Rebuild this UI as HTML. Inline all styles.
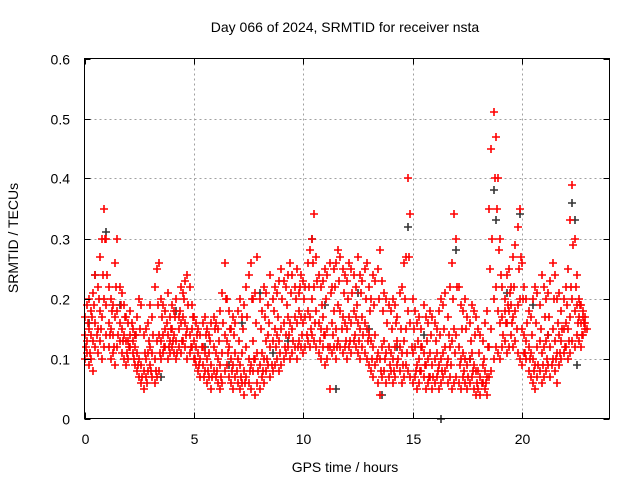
<!DOCTYPE html>
<html><head><meta charset="utf-8"><style>
body{margin:0;background:#fff;}
svg text{font-family:"Liberation Sans",sans-serif;font-size:14px;fill:#000;}
</style></head><body>
<svg id="chart" width="640" height="480" xmlns="http://www.w3.org/2000/svg">
<rect width="640" height="480" fill="#fff"/>
<g id="grid"></g>
<g id="marks"></g>
<rect x="84.5" y="58.5" width="525" height="360" fill="none" stroke="#000" stroke-width="1"/>
<g id="ticks"></g>
<text x="345" y="32" text-anchor="middle">Day 066 of 2024, SRMTID for receiver nsta</text>
<text x="345" y="472" text-anchor="middle">GPS time / hours</text>
<text transform="translate(18,238) rotate(-90)" text-anchor="middle">SRMTID / TECUs</text>
</svg>
<script>
const xTicks=[0,5,10,15,20];
const yTicks=[0,0.1,0.2,0.3,0.4,0.5,0.6];
const yTickLabels=["0","0.1","0.2","0.3","0.4","0.5","0.6"];
const tStart=0, tStep=0.1;
const redHi=[.17,.19,.20,.18,.21,.24,.22,.27,.30,.35,.30,.22,.20,.19,.26,.30,.22,.21,.19,.17,.16,.18,.15,.14,.17,.20,.19,.14,.15,.16,.19,.17,.22,.25,.26,.20,.19,.18,.21,.17,.19,.18,.20,.17,.22,.21,.23,.24,.22,.19,.17,.16,.15,.14,.16,.17,.15,.14,.16,.17,.16,.15,.18,.21,.26,.20,.18,.15,.17,.16,.18,.20,.17,.19,.22,.24,.26,.20,.21,.27,.20,.18,.22,.21,.19,.24,.20,.22,.21,.23,.25,.23,.22,.24,.26,.24,.22,.25,.21,.24,.23,.22,.26,.28,.30,.34,.27,.24,.22,.23,.25,.24,.26,.22,.25,.26,.28,.27,.25,.24,.23,.26,.25,.24,.22,.27,.24,.23,.25,.26,.22,.20,.24,.23,.25,.28,.23,.21,.20,.19,.18,.20,.19,.17,.21,.22,.26,.27,.40,.34,.20,.18,.16,.17,.15,.19,.17,.16,.18,.17,.16,.15,.18,.20,.19,.21,.17,.22,.26,.34,.30,.22,.19,.18,.20,.17,.16,.19,.18,.17,.15,.14,.13,.16,.18,.35,.45,.51,.47,.40,.30,.22,.20,.24,.25,.22,.27,.29,.32,.35,.26,.22,.20,.18,.17,.20,.22,.21,.19,.24,.22,.20,.21,.23,.26,.24,.20,.21,.18,.20,.22,.25,.33,.39,.30,.24,.20,.19,.18,.17];
const redMid=[.14,.13,.15,.14,.13,.16,.15,.18,.17,.20,.19,.16,.15,.14,.17,.18,.16,.15,.14,.13,.13,.14,.13,.12,.11,.10,.09,.08,.10,.11,.12,.11,.10,.13,.14,.13,.14,.15,.14,.13,.15,.14,.13,.15,.16,.17,.16,.15,.14,.15,.13,.12,.11,.10,.12,.11,.10,.11,.09,.12,.11,.10,.09,.11,.14,.13,.12,.10,.09,.11,.10,.09,.11,.08,.12,.10,.09,.13,.10,.11,.09,.11,.10,.13,.14,.12,.13,.15,.14,.13,.15,.16,.14,.17,.16,.15,.17,.16,.18,.17,.16,.17,.18,.17,.20,.22,.18,.16,.15,.17,.14,.15,.12,.16,.18,.15,.19,.18,.17,.16,.15,.17,.16,.18,.17,.16,.15,.17,.16,.15,.14,.13,.12,.14,.11,.10,.12,.13,.11,.12,.11,.10,.12,.13,.12,.11,.13,.15,.18,.16,.11,.12,.09,.10,.12,.11,.09,.10,.11,.09,.10,.11,.09,.10,.11,.12,.10,.12,.13,.15,.14,.12,.10,.11,.10,.09,.10,.11,.09,.08,.08,.07,.09,.08,.07,.12,.15,.20,.22,.18,.16,.17,.18,.16,.18,.19,.17,.18,.19,.20,.15,.14,.13,.12,.11,.10,.09,.12,.13,.11,.12,.13,.14,.12,.15,.13,.11,.14,.13,.15,.16,.15,.17,.20,.18,.19,.17,.16,.17,.16];
const redLo=[.10,.11,.09,.10,.08,.12,.11,.13,.10,.12,.14,.12,.10,.11,.09,.12,.13,.11,.10,.09,.10,.12,.11,.09,.08,.07,.06,.05,.07,.08,.09,.07,.06,.07,.08,.10,.11,.12,.10,.11,.12,.11,.10,.12,.11,.13,.12,.10,.11,.12,.10,.09,.08,.07,.09,.08,.06,.07,.05,.08,.07,.06,.05,.06,.08,.09,.07,.06,.05,.07,.06,.05,.06,.04,.07,.06,.05,.08,.04,.06,.05,.07,.06,.08,.09,.07,.08,.09,.10,.08,.09,.10,.11,.12,.10,.11,.12,.10,.13,.12,.11,.12,.13,.12,.14,.13,.12,.11,.10,.12,.09,.10,.05,.11,.12,.10,.13,.12,.11,.12,.10,.12,.11,.13,.12,.11,.10,.12,.11,.10,.09,.08,.07,.09,.06,.04,.07,.08,.06,.07,.08,.06,.07,.09,.08,.06,.07,.09,.08,.07,.06,.07,.05,.06,.08,.07,.05,.06,.07,.05,.06,.07,.05,.06,.07,.08,.06,.07,.05,.06,.07,.06,.05,.07,.06,.05,.06,.07,.05,.04,.05,.04,.06,.05,.04,.07,.08,.10,.12,.11,.10,.12,.13,.11,.12,.14,.12,.13,.11,.10,.09,.11,.10,.08,.07,.06,.05,.07,.08,.06,.07,.08,.09,.07,.10,.08,.06,.09,.10,.11,.12,.10,.11,.13,.12,.14,.13,.12,.14,.15];
const redQ=[.12,.16,.11,.17,.19,.14,.20,.15,.24,.30,.24,.14,.18,.12,.22,.14,.19,.13,.17,.11,.12,.16,.10,.14,.09,.15,.07,.11,.06,.13,.08,.14,.08,.19,.11,.17,.12,.16,.12,.15,.13,.17,.11,.18,.13,.20,.14,.19,.12,.17,.10,.14,.09,.12,.07,.14,.08,.13,.07,.15,.08,.13,.07,.16,.20,.11,.15,.08,.14,.08,.13,.07,.15,.06,.17,.08,.20,.10,.16,.08,.15,.08,.17,.10,.16,.09,.18,.12,.17,.11,.20,.12,.19,.14,.21,.13,.20,.12,.22,.14,.20,.14,.22,.15,.26,.16,.23,.13,.19,.14,.20,.12,.21,.14,.22,.12,.23,.15,.21,.13,.20,.13,.21,.14,.19,.13,.21,.14,.20,.13,.18,.10,.19,.10,.20,.08,.18,.10,.16,.09,.15,.08,.16,.10,.15,.09,.20,.11,.27,.12,.15,.08,.13,.08,.12,.09,.13,.07,.14,.07,.13,.08,.14,.08,.15,.09,.14,.09,.20,.11,.22,.09,.15,.08,.15,.07,.13,.08,.14,.06,.11,.06,.10,.06,.12,.25,.30,.40,.35,.28,.24,.14,.16,.19,.21,.16,.22,.15,.25,.27,.20,.11,.16,.10,.14,.08,.16,.09,.15,.09,.17,.10,.17,.09,.20,.10,.16,.11,.15,.12,.19,.13,.22,.29,.22,.16,.19,.14,.16,.15];
const blackT=[0.2,0.5,1.0,1.6,2.3,3.5,4.2,5.5,6.6,7.2,8.0,8.6,9.3,10.4,11.0,11.5,12.5,13.0,13.6,14.3,14.8,15.5,16.3,17.0,17.6,18.7,18.8,19.3,19.9,20.5,21.2,22.3,22.4,22.5];
const blackV=[.16,.24,.31,.19,.14,.07,.18,.12,.09,.16,.21,.11,.13,.30,.19,.05,.21,.15,.04,.12,.32,.14,0.0,.28,.10,.38,.33,.21,.34,.19,.14,.36,.33,.09];

const X0=84.5,X1=609.5,Y0=418.5,Y1=58.5;
const xs=t=>X0+(t-0)/24*(X1-X0);
const ys=v=>Y0-(v/0.6)*(Y0-Y1);
const NS="http://www.w3.org/2000/svg";
function mk(tag,attrs,parent){const e=document.createElementNS(NS,tag);for(const k in attrs)e.setAttribute(k,attrs[k]);parent.appendChild(e);return e;}
const grid=document.getElementById('grid'),ticks=document.getElementById('ticks'),marks=document.getElementById('marks'),svg=document.getElementById('chart');
xTicks.forEach(t=>{const x=Math.round(xs(t))+0.5;
 if(t>0){const g=mk('line',{x1:x,x2:x,y1:Y1,y2:Y0,stroke:'#a0a0a0','stroke-dasharray':'2,3'},grid);
 
 }
 const tk=mk('path',{d:`M${x},${Y0}v-6M${x},${Y1}v6`,stroke:'#000'},ticks);
 
 
 const l=mk('text',{x:x,y:444,'text-anchor':'middle'},svg);l.textContent=t;
 
 
});
yTicks.forEach((v,i)=>{const y=Math.round(ys(v))+0.5;
 if(v>0&&v<0.6){const g=mk('line',{x1:X0,x2:X1,y1:y,y2:y,stroke:'#a0a0a0','stroke-dasharray':'2,3'},grid);
 
 }
 const tk=mk('path',{d:`M${X0},${y}h6M${X1},${y}h-6`,stroke:'#000'},ticks);
 
 
 const l=mk('text',{x:70,y:y+5,'text-anchor':'end'},svg);l.textContent=yTickLabels[i];
 
 
});
function plus(t,v,col,name){const x=Math.round(xs(t)),y=Math.round(ys(v));
 const p=mk('path',{d:`M${x-4},${y}h8M${x},${y-4}v8`,stroke:col,'stroke-width':1.6},marks);
 
 }
blackT.forEach((t,i)=>plus(t,blackV[i],'#333','black-point'));
[redHi,redMid,redLo].forEach(arr=>arr.forEach((v,i)=>plus(tStart+i*tStep,v,'#ff0000','red-point')));
redQ.forEach((v,i)=>plus(tStart+i*tStep+0.05,v,'#ff0000','red-point'));
</script>
</body></html>
